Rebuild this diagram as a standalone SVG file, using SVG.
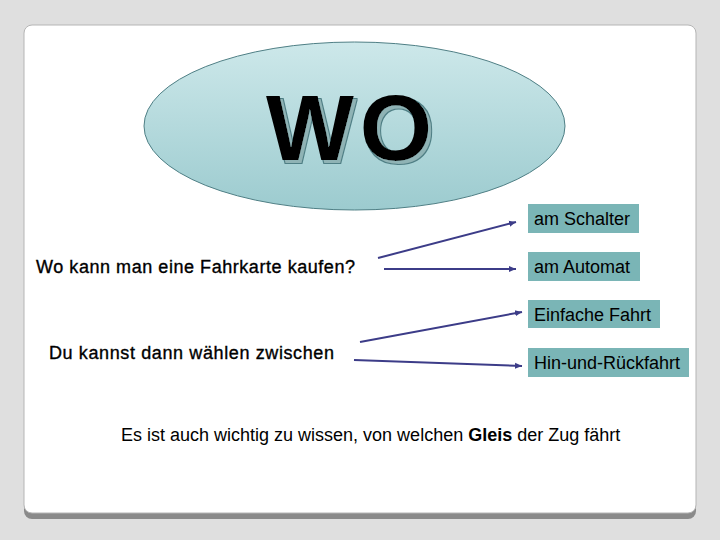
<svg xmlns="http://www.w3.org/2000/svg" width="720" height="540" viewBox="0 0 720 540">
<defs>
<linearGradient id="eg" x1="0" y1="0" x2="0" y2="1">
<stop offset="0" stop-color="#cde8ea"/>
<stop offset="1" stop-color="#9ccbcf"/>
</linearGradient>
<filter id="sh" x="-10%" y="-10%" width="130%" height="130%">
<feMorphology in="SourceAlpha" operator="dilate" radius="0.8" result="d"/>
<feOffset in="d" dx="3" dy="3" result="o1"/>
<feFlood flood-color="#4f7f85"/>
<feComposite in2="o1" operator="in" result="edge"/>
<feOffset in="SourceAlpha" dx="3" dy="3" result="o2"/>
<feFlood flood-color="#8fb3b5"/>
<feComposite in2="o2" operator="in" result="fillsh"/>
<feMerge><feMergeNode in="edge"/><feMergeNode in="fillsh"/><feMergeNode in="SourceGraphic"/></feMerge>
</filter>
<marker id="ah" markerWidth="8" markerHeight="8" refX="7" refY="4" orient="auto" markerUnits="userSpaceOnUse">
<path d="M0,1 L7,4 L0,7 Z" fill="#3c3c88"/>
</marker>
<style>
text{font-family:"Liberation Sans",Arial,sans-serif;fill:#000}
.lbl{font-size:18px}
.q{font-size:18px;stroke:#000;stroke-width:0.35}
.box{fill:#7ab5b6}
.con{stroke:#3c3c88;stroke-width:2;fill:none;marker-end:url(#ah)}
</style>
</defs>
<rect width="720" height="540" fill="#dfdfdf"/>
<rect x="24" y="27" width="672" height="492" rx="8" fill="#8a8a8a"/>
<rect x="24" y="25" width="672" height="488" rx="8" fill="#ffffff" stroke="#b5b5b5" stroke-width="1"/>
<g id="ellipse">
<ellipse cx="354.5" cy="126" rx="210.5" ry="84" fill="url(#eg)" stroke="#4f7f85" stroke-width="1"/>
<text x="266" y="160" font-size="93" font-weight="bold" letter-spacing="6" filter="url(#sh)">WO</text>
</g>
<g id="q1"><text class="q" x="36" y="273" textLength="319" lengthAdjust="spacing">Wo kann man eine Fahrkarte kaufen?</text></g>
<g id="q2"><text class="q" x="49" y="359" textLength="285" lengthAdjust="spacing">Du kannst dann wählen zwischen</text></g>
<g id="b1"><rect class="box" x="528" y="204" width="111" height="29"/><text class="lbl" x="534" y="225">am Schalter</text></g>
<g id="b2"><rect class="box" x="528" y="252" width="112" height="29"/><text class="lbl" x="534" y="273">am Automat</text></g>
<g id="b3"><rect class="box" x="528" y="300" width="132" height="28"/><text class="lbl" x="534" y="321">Einfache Fahrt</text></g>
<g id="b4"><rect class="box" x="528" y="348" width="161" height="29"/><text class="lbl" x="534" y="369">Hin-und-Rückfahrt</text></g>
<g id="connectors">
<line class="con" x1="378" y1="258" x2="516" y2="222"/>
<line class="con" x1="384" y1="269" x2="516" y2="269"/>
<line class="con" x1="360" y1="342" x2="522" y2="312"/>
<line class="con" x1="354" y1="360" x2="522" y2="366"/>
</g>
<g id="note"><text class="lbl" x="121" y="441">Es ist auch wichtig zu wissen, von welchen <tspan font-weight="bold">Gleis</tspan> der Zug fährt</text></g>
</svg>
